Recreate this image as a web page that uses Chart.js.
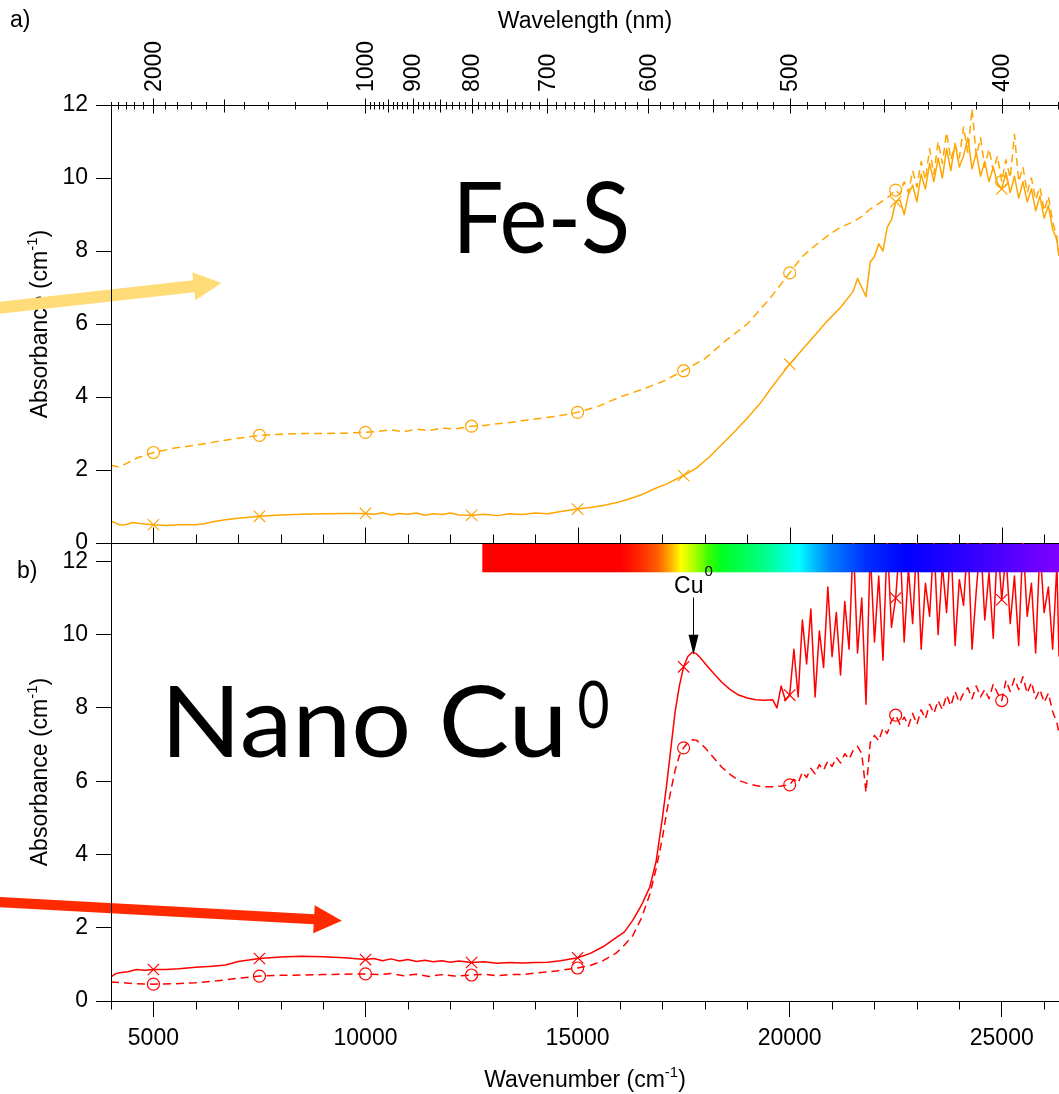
<!DOCTYPE html>
<html>
<head>
<meta charset="utf-8">
<script src="https://cdn.jsdelivr.net/npm/chart.js@4.4.1/dist/chart.umd.min.js"></script>
<style>
  body { margin: 0; background: #fff; }
  #wrap { position: relative; width: 1059px; height: 1094px; }
  canvas { position: absolute; left: 0; }
  #top { top: 0; }
  #bottom { top: 519px; }
</style>
</head>
<body>
<div id="wrap">
  <canvas id="top" width="1059" height="567"></canvas>
  <canvas id="bottom" width="1059" height="575"></canvas>
</div>
<script>
// x grid helper for the evenly sampled noisy tails
const steps = (a, b, d) => { const out = []; for (let v = a; v <= b; v += d) out.push(v); return out; };

const WN_MIN = 4000, WN_MAX = 26350;
const xTicks = [5000, 10000, 15000, 20000, 25000];
const yTicks = [0, 2, 4, 6, 8, 10, 12];
const wlLabels = [2000, 1000, 900, 800, 700, 600, 500, 400];
const markerWn = [5000, 7500, 10000, 12500, 15000, 17500, 20000, 22500, 25000];

// a) Fe-S, solid (x markers)
const feSolidWn = [4000,4100,4200,4300,4400,4500,4600,4700,4800,5000,5300,5600,6000,6200,6400,6700,7000,7500,8000,8500,
  9000,9500,10000,10200,10400,10600,10800,11000,11200,11400,11600,11800,12000,12200,12500,12800,13100,13400,13700,14000,
  14300,14600,15000,15300,15600,15900,16200,16500,16800,17100,17500,17800,18100,18400,18700,19000,19300,19600,20000,20300,
  20600,20900,21200,21400, ...steps(21500, 26300, 100), 26350];
const feSolidAbs = [0.60,0.55,0.50,0.49,0.52,0.56,0.55,0.53,0.52,0.50,0.48,0.50,0.50,0.53,0.58,0.64,0.68,0.73,0.77,0.79,
  0.80,0.81,0.81,0.79,0.83,0.77,0.81,0.79,0.82,0.76,0.80,0.78,0.82,0.77,0.76,0.79,0.75,0.80,0.78,0.82,
  0.80,0.86,0.93,0.97,1.03,1.10,1.20,1.32,1.48,1.62,1.85,2.05,2.35,2.70,3.05,3.42,3.82,4.30,4.90,5.30,
  5.70,6.10,6.45,6.75,
  6.90,7.25,7.00,6.75,7.70,7.85,8.20,8.00,8.65,8.85,9.35,9.40,9.00,9.55,9.80,9.35,10.10,9.70,10.40,9.90,
  10.55,10.00,10.80,10.20,10.95,10.30,10.60,11.10,10.25,10.70,10.05,10.45,9.90,10.30,9.85,9.70,10.15,9.60,10.05,9.45,
  9.90,9.35,9.70,9.10,9.50,8.90,9.25,8.60,8.30, 7.90];

// a) Fe-S, dashed (circle markers)
const feDashWn = [4000,4100,4200,4400,4600,4800,5000,5500,6000,6500,7000,7500,8000,8500,9000,9500,10000,10300,10600,10900,
  11200,11500,11800,12100,12500,12800,13100,13400,13700,14000,14500,15000,15500,16000,16500,17000,17500,18000,18500,19000,
  19500,20000,20300,20600,20900,21200,21500,21700,21900,22100,22300,22500, ...steps(22600, 26300, 100), 26350];
const feDashAbs = [2.14,2.10,2.08,2.20,2.32,2.40,2.48,2.60,2.68,2.78,2.87,2.95,2.98,3.00,3.00,3.01,3.03,3.06,3.10,3.05,
  3.12,3.08,3.15,3.12,3.20,3.22,3.27,3.30,3.35,3.40,3.47,3.58,3.75,4.00,4.20,4.42,4.72,5.05,5.55,6.00,
  6.65,7.40,7.85,8.15,8.42,8.65,8.80,8.95,9.15,9.30,9.45,9.67,
  9.55,9.90,9.60,10.20,9.75,10.45,9.95,10.80,10.10,11.00,10.40,11.25,10.50,10.90,10.55,11.40,10.70,11.90,10.60,11.10,
  10.30,10.80,10.20,10.60,9.90,10.50,10.00,11.20,9.90,10.30,9.60,10.00,9.40,9.75,9.10,9.50,8.80,8.40, 7.80];

// b) Nano Cu0, solid (x markers)
const cuSolidWn = [4000,4100,4200,4400,4600,4800,5000,5300,5600,6000,6400,6700,7000,7500,8000,8500,9000,9500,10000,10200,
  10400,10600,10800,11000,11200,11400,11600,11800,12000,12200,12500,12800,13100,13400,13700,14000,14300,14600,15000,15300,
  15600,15900,16100,16300,16500,16700,16850,17000,17100,17200,17300,17400,17500,17600,17700,17800,17900,18000,18200,18400,
  18600,18800,19000,19200,19400,19600, ...steps(19700, 26300, 100), 26350];
const cuSolidAbs = [0.66,0.74,0.77,0.80,0.86,0.84,0.86,0.86,0.88,0.92,0.95,0.98,1.08,1.16,1.20,1.22,1.21,1.18,1.13,1.16,
  1.10,1.15,1.09,1.13,1.08,1.11,1.07,1.10,1.06,1.09,1.05,1.07,1.03,1.05,1.04,1.05,1.06,1.10,1.18,1.30,
  1.48,1.72,1.88,2.20,2.60,3.10,3.80,5.00,5.90,6.90,7.90,8.60,9.12,9.40,9.52,9.48,9.36,9.22,8.95,8.70,
  8.50,8.35,8.27,8.22,8.21,8.22,
  8.0,8.6,8.2,8.35,9.6,8.3,10.4,9.2,10.7,8.3,
  10.1,9.1,11.3,9.4,10.6,8.9,10.9,9.6,12.6,9.5,
  11.0,8.1,12.3,9.8,11.6,9.3,12.6,10.2,11.0,12.6,
  9.8,11.8,10.3,12.6,9.6,11.4,10.5,12.6,10.0,11.9,
  10.6,12.6,9.7,11.5,10.8,12.6,9.6,11.2,12.6,10.4,
  11.7,9.9,12.6,10.95,12.2,10.3,11.6,9.7,12.6,10.5,
  11.4,9.5,12.4,10.6,11.3,9.6,11.9, 9.4];

// b) Nano Cu0, dashed (circle markers)
const cuDashWn = [4000,4300,4600,5000,5500,6000,6500,7000,7500,8000,8500,9000,10000,10300,10600,10900,11200,11500,11800,12100,
  12500,12800,13100,13400,13700,14000,14500,15000,15300,15600,15900,16100,16300,16500,16700,16850,17000,17100,17200,17300,
  17400,17500,17600,17700,17800,17900,18000,18200,18400,18600,18800,19000,19200,19400,19600,19800,20000,
  ...steps(20100, 26300, 100), 26350];
const cuDashAbs = [0.52,0.50,0.47,0.46,0.47,0.50,0.55,0.62,0.68,0.70,0.71,0.72,0.74,0.72,0.75,0.69,0.73,0.67,0.72,0.68,
  0.71,0.73,0.69,0.72,0.72,0.76,0.82,0.90,0.97,1.10,1.30,1.52,1.78,2.25,2.90,3.60,4.45,5.15,5.75,6.30,
  6.70,6.91,7.05,7.13,7.12,7.02,6.92,6.65,6.38,6.18,6.02,5.94,5.88,5.85,5.85,5.87,5.90,
  6.05,5.95,6.25,6.10,6.35,6.20,6.45,6.30,6.55,6.40,
  6.65,6.50,6.75,6.60,6.85,6.95,6.75,5.70,7.05,7.25,
  7.10,7.45,7.30,7.65,7.80,7.55,7.75,7.50,7.85,7.55,
  7.95,7.70,8.10,7.85,8.20,7.95,8.35,8.05,8.45,8.15,
  8.40,8.55,8.25,8.60,8.30,8.50,8.25,8.65,8.40,8.20,
  8.75,8.45,8.80,8.50,8.85,8.40,8.70,8.25,8.50,8.15,
  8.40,7.90,7.60, 7.30];

// visible-spectrum bar (wavenumber stops and colours)
const colorbarWn = [12754,16017,16489,16891,17199,17435,17742,18073,18381,19326,20225,20556,20957,21785,22754,24220,26350];
const colorbarColor = ['#ff0000','#ff0000','#ff2a00','#ff6000','#ffb000','#ffff00','#b0ff00','#40ff00','#00ff20','#00ff80',
  '#00ffff','#00c0ff','#0080ff','#0030ff','#0000ff','#3000ff','#8000ff'];

const ORANGE = '#ffa500', RED = '#ff0000';
const FONT = "'Liberation Sans', Arial, sans-serif";
Chart.defaults.font.family = FONT;
Chart.defaults.font.size = 23;
Chart.defaults.color = '#000';

function series(wn, abs, color, dashed) {
  return {
    data: wn.map((w, i) => ({ x: w, y: abs[i] })),
    borderColor: color,
    borderWidth: 1.5,
    borderDash: dashed ? [8, 5] : [],
    borderJoinStyle: 'round',
    tension: 0,
    fill: false,
    pointStyle: dashed ? 'circle' : 'crossRot',
    pointRadius: c => (c.raw && markerWn.includes(c.raw.x)) ? (dashed ? 6 : 8) : 0,
    pointBorderColor: color,
    pointBackgroundColor: 'rgba(0,0,0,0)',
    pointBorderWidth: 1.2
  };
}

function yAxis(max) {
  return {
    min: 0, max,
    afterBuildTicks: s => { s.ticks = yTicks.map(v => ({ value: v })); },
    ticks: { padding: 8 },
    grid: { drawOnChartArea: false, tickLength: 15, tickColor: '#000' },
    border: { color: '#000', width: 1 },
    afterFit: s => { s.width = 111; }
  };
}

function seg(ctx, x0, y0, x1, y1) {
  ctx.beginPath(); ctx.moveTo(x0, y0); ctx.lineTo(x1, y1); ctx.stroke();
}

// text pieces: [text, size, raise]
function rich(ctx, parts, x, y) {
  let total = 0;
  parts.forEach(p => { ctx.font = p[1] + 'px ' + FONT; total += ctx.measureText(p[0]).width; });
  let cx = x - total / 2;
  ctx.textAlign = 'left';
  ctx.textBaseline = 'alphabetic';
  parts.forEach(p => {
    ctx.font = p[1] + 'px ' + FONT;
    ctx.fillText(p[0], cx, y - p[2]);
    cx += ctx.measureText(p[0]).width;
  });
}

function fitText(ctx, text, x, y, font, width) {
  ctx.font = font;
  ctx.textAlign = 'left';
  ctx.textBaseline = 'alphabetic';
  const w = ctx.measureText(text).width;
  ctx.save();
  ctx.translate(x, y);
  ctx.scale(width / w, 1);
  ctx.fillText(text, 0, 0);
  ctx.restore();
}

function arrow(ctx, x0, y0, x1, y1, w, hl, hw, color) {
  const ang = Math.atan2(y1 - y0, x1 - x0);
  const len = Math.hypot(x1 - x0, y1 - y0);
  ctx.save();
  ctx.translate(x0, y0);
  ctx.rotate(ang);
  ctx.fillStyle = color;
  ctx.beginPath();
  ctx.moveTo(0, -w / 2);
  ctx.lineTo(len - hl, -w / 2);
  ctx.lineTo(len - hl, -hw);
  ctx.lineTo(len, 0);
  ctx.lineTo(len - hl, hw);
  ctx.lineTo(len - hl, w / 2);
  ctx.lineTo(0, w / 2);
  ctx.closePath();
  ctx.fill();
  ctx.restore();
}

const absTitle = [['Absorbance (cm', 23, 0], ['-1', 15, 10], [')', 23, 0]];

function yTitle(ctx, a) {
  ctx.save();
  ctx.fillStyle = '#000';
  ctx.translate(47, (a.top + a.bottom) / 2);
  ctx.rotate(-Math.PI / 2);
  rich(ctx, absTitle, 0, 0);
  ctx.restore();
}

// wavelength tick marks on the top axis (nm)
const wlMarks = [];
for (let l = 2500; l > 1000; l -= 100) wlMarks.push(l);
for (let l = 1000; l >= 380; l -= 10) wlMarks.push(l);

const topDecor = {
  id: 'topDecor',
  afterDraw(chart) {
    const { ctx, chartArea: a, scales: { x, y } } = chart;
    ctx.save();
    ctx.strokeStyle = '#000';
    ctx.fillStyle = '#000';
    ctx.lineWidth = 1;
    const ty = Math.round(a.top) + 0.5;
    wlMarks.forEach(l => {
      const px = Math.round(x.getPixelForValue(1e7 / l)) + 0.5;
      let up = 3.5, down = 4;
      if (wlLabels.includes(l)) { up = 7; down = 8; }
      else if (l === 1500 || (l < 1000 && l % 50 === 0)) { up = 6; down = 7; }
      seg(ctx, px, ty - up, px, ty + down);
    });
    // rotated wavelength labels
    ctx.font = '23px ' + FONT;
    wlLabels.forEach(l => {
      ctx.save();
      ctx.translate(x.getPixelForValue(1e7 / l), a.top - 13);
      ctx.rotate(-Math.PI / 2);
      ctx.textAlign = 'left';
      ctx.textBaseline = 'middle';
      ctx.fillText(String(l), 0, 1);
      ctx.restore();
    });
    // lower frame of panel a with inward ticks
    const by = Math.round(a.bottom) + 0.5;
    seg(ctx, a.left, by, a.right, by);
    for (let v = 5000; v <= WN_MAX; v += 1000) {
      const px = Math.round(x.getPixelForValue(v)) + 0.5;
      seg(ctx, px, by, px, by - (v % 5000 === 0 ? 16 : 9));
    }
    // titles
    yTitle(ctx, a);
    rich(ctx, [['Wavelength (nm)', 23, 0]], (a.left + a.right) / 2, a.top - 77);
    ctx.font = '23px ' + FONT;
    ctx.textAlign = 'left';
    ctx.textBaseline = 'alphabetic';
    ctx.fillText('a)', 10, a.top - 78);
    fitText(ctx, 'Fe-S', x.getPixelForValue(12045), y.getPixelForValue(7.95), '400 98px Lato', 178);
    // arrow, then the axis line back on top of it
    arrow(ctx, x.getPixelForValue(1359), y.getPixelForValue(6.44), x.getPixelForValue(6608), y.getPixelForValue(7.12),
      12, 28, 14, '#ffdc78');
    const lx = Math.round(a.left) + 0.5;
    seg(ctx, lx, a.top, lx, a.bottom);
    ctx.restore();
  }
};

const bottomDecor = {
  id: 'bottomDecor',
  afterDatasetsDraw(chart) {
    const { ctx, chartArea: a, scales: { x, y } } = chart;
    ctx.save();
    const x0 = x.getPixelForValue(colorbarWn[0]);
    const x1 = x.getPixelForValue(colorbarWn[colorbarWn.length - 1]);
    const g = ctx.createLinearGradient(x0, 0, x1, 0);
    colorbarWn.forEach((w, i) => g.addColorStop((x.getPixelForValue(w) - x0) / (x1 - x0), colorbarColor[i]));
    ctx.fillStyle = g;
    const yb = y.getPixelForValue(11.7);
    ctx.fillRect(x0, a.top + 1, a.right - x0, yb - a.top - 1);
    // Cu0 plasmon marker
    const ax = Math.round(x.getPixelForValue(17711)) + 0.5;
    const ay0 = y.getPixelForValue(11.01), ay1 = y.getPixelForValue(9.45);
    ctx.strokeStyle = '#000';
    ctx.fillStyle = '#000';
    ctx.lineWidth = 1;
    seg(ctx, ax, ay0, ax, ay1 - 18);
    ctx.beginPath();
    ctx.moveTo(ax - 5, ay1 - 20); ctx.lineTo(ax + 5, ay1 - 20); ctx.lineTo(ax, ay1); ctx.closePath(); ctx.fill();
    ctx.font = '23px ' + FONT;
    ctx.textAlign = 'right';
    ctx.textBaseline = 'alphabetic';
    ctx.fillText('Cu', ax + 10, ay0 - 5);
    ctx.font = '15px ' + FONT;
    ctx.textAlign = 'left';
    ctx.fillText('0', ax + 11, ay0 - 22);
    ctx.restore();
  },
  afterDraw(chart) {
    const { ctx, chartArea: a, scales: { x, y } } = chart;
    ctx.save();
    ctx.strokeStyle = '#000';
    ctx.lineWidth = 1;
    const by = Math.round(a.bottom) + 0.5;
    for (let v = WN_MIN; v <= WN_MAX; v += 1000) {
      if (v % 5000 === 0) continue;
      const px = Math.round(x.getPixelForValue(v)) + 0.5;
      seg(ctx, px, by, px, by + 8);
    }
    arrow(ctx, x.getPixelForValue(1359), y.getPixelForValue(2.70), x.getPixelForValue(9444), y.getPixelForValue(2.19),
      10, 28, 14, '#ff2a00');
    const lx = Math.round(a.left) + 0.5;
    seg(ctx, lx, a.top, lx, a.bottom);
    ctx.fillStyle = '#000';
    yTitle(ctx, a);
    rich(ctx, [['Wavenumber (cm', 23, 0], ['-1', 15, 10], [')', 23, 0]], (a.left + a.right) / 2, a.bottom + 86);
    ctx.font = '23px ' + FONT;
    ctx.textAlign = 'left';
    ctx.fillText('b)', 17, a.top + 35);
    fitText(ctx, 'Nano Cu', x.getPixelForValue(5165), y.getPixelForValue(6.67), '400 99px Lato', 407);
    fitText(ctx, '0', x.getPixelForValue(15000), y.getPixelForValue(7.46), '400 66px Lato', 32);
    ctx.restore();
  }
};

const common = {
  responsive: false,
  maintainAspectRatio: false,
  animation: false,
  events: [],
  devicePixelRatio: 1,
  plugins: { legend: { display: false }, tooltip: { enabled: false } }
};

new Chart(document.getElementById('top'), {
  type: 'line',
  data: { datasets: [series(feDashWn, feDashAbs, ORANGE, true), series(feSolidWn, feSolidAbs, ORANGE, false)] },
  options: {
    ...common,
    layout: { padding: { top: 0, left: 0, right: 0, bottom: 24 } },
    scales: {
      x: { type: 'linear', min: WN_MIN, max: WN_MAX, display: false },
      xTop: {
        type: 'linear', position: 'top', min: WN_MIN, max: WN_MAX,
        ticks: { display: false },
        grid: { drawOnChartArea: false, drawTicks: false },
        border: { color: '#000', width: 1 },
        afterFit: s => { s.height = 105; }
      },
      y: yAxis(12)
    }
  },
  plugins: [topDecor]
});

new Chart(document.getElementById('bottom'), {
  type: 'line',
  data: { datasets: [series(cuDashWn, cuDashAbs, RED, true), series(cuSolidWn, cuSolidAbs, RED, false)] },
  options: {
    ...common,
    layout: { padding: { top: 24, left: 0, right: 0, bottom: 0 } },
    scales: {
      x: {
        type: 'linear', min: WN_MIN, max: WN_MAX,
        afterBuildTicks: s => { s.ticks = xTicks.map(v => ({ value: v })); },
        ticks: { callback: v => String(v), padding: 8, maxRotation: 0 },
        grid: { drawOnChartArea: false, tickLength: 16, tickColor: '#000' },
        border: { color: '#000', width: 1 },
        afterFit: s => { s.height = 93; }
      },
      y: yAxis(12.5)
    }
  },
  plugins: [bottomDecor]
});
</script>
</body>
</html>
